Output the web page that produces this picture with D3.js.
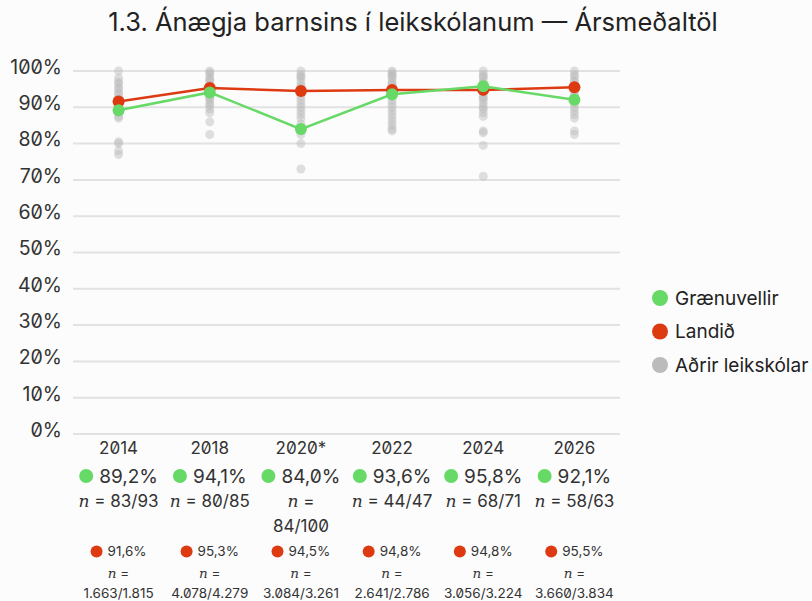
<!DOCTYPE html>
<html>
<head>
<meta charset="utf-8">
<script src="https://cdn.jsdelivr.net/npm/d3@7"></script>
<style>
  body { margin: 0; background: #fcfcfc; }
  svg { font-family: Inter, "DejaVu Sans", sans-serif; font-feature-settings: "zero" 1; }
</style>
</head>
<body>
<div id="chart"></div>
<script>
// data
var years = ["2014", "2018", "2020*", "2022", "2024", "2026"]
var schoolValues = [89.2, 94.1, 84.0, 93.6, 95.8, 92.1]
var schoolN = ["83/93", "80/85", "84/100", "44/47", "68/71", "58/63"]
var countryValues = [91.6, 95.3, 94.5, 94.8, 94.8, 95.5]
var countryN = ["1.663/1.815", "4.078/4.279", "3.084/3.261", "2.641/2.786", "3.056/3.224", "3.660/3.834"]
var otherSchools = [
  [100, 98, 97, 96.5, 95.5, 95, 94, 93.5, 92.5, 92, 91, 90.5, 89.5, 89, 88.5, 87.5, 87, 80.5, 80, 78, 77],
  [100, 99.5, 99, 98, 97.5, 97, 96, 95.5, 95, 94.5, 94, 93, 92.5, 92, 91, 90.5, 89.5, 88.5, 86, 82.5],
  [100, 99, 98.5, 98, 97, 96, 95.5, 95, 94, 93, 92, 91, 90, 89, 88, 87, 85.5, 83.5, 82.5, 80, 73],
  [100, 99.5, 99, 98.5, 98, 97, 96.5, 96, 95, 94.5, 93.5, 93, 92, 91, 90, 89, 88, 87, 86, 85, 84, 83.5],
  [100, 99, 98.5, 98, 97, 96.5, 96, 95, 94.5, 94, 93, 92.5, 92, 91, 90, 89.5, 88.5, 87.5, 83.5, 83, 79.5, 71],
  [100, 99, 98.5, 97.5, 97, 96, 95, 94.5, 93.5, 93, 92, 91, 90, 89, 88, 87, 83.5, 82.5]
]
var yTicks = [0, 10, 20, 30, 40, 50, 60, 70, 80, 90, 100]
var legendLabels = ["Grænuvellir", "Landið", "Aðrir leikskólar"]

var green = "#66d966", red = "#dd3a12", gray = "#bbbbbb"
var width = 812, height = 601

var svg = d3.select("#chart").append("svg")
    .attr("width", width)
    .attr("height", height)

svg.append("text")
    .text("1.3. Ánægja barnsins í leikskólanum — Ársmeðaltöl")
    .attr("x", 413).attr("y", 31)
    .attr("text-anchor", "middle")
    .style("font-size", "25.5px")
    .style("fill", "#222")

var x = d3.scaleBand().domain(years).range([73, 620])
var cx = function(d) { return x(d) + x.bandwidth() / 2 }
var y = d3.scaleLinear().domain([0, 100]).range([434, 71])

// grid
svg.append("g").selectAll("line")
    .data(yTicks)
  .enter().append("line")
    .attr("x1", 73).attr("x2", 620)
    .attr("y1", function(d) { return y(d) })
    .attr("y2", function(d) { return y(d) })
    .style("stroke", "#e2e2e2")
    .style("stroke-width", 2)

svg.append("g").selectAll("text")
    .data(yTicks)
  .enter().append("text")
    .attr("x", 62)
    .attr("y", function(d) { return y(d) - 4 })
    .attr("dy", "0.35em")
    .attr("text-anchor", "end")
    .style("font-size", "19.5px")
    .style("fill", "#333")
    .text(function(d) { return d + "%" })

// other schools
var others = []
otherSchools.forEach(function(arr, i) {
  arr.forEach(function(v) { others.push({year: years[i], value: v}) })
})
svg.append("g").selectAll("circle")
    .data(others)
  .enter().append("circle")
    .attr("cx", function(d) { return cx(d.year) })
    .attr("cy", function(d) { return y(d.value) })
    .attr("r", 4.5)
    .style("fill", gray)
    .style("opacity", 0.45)

function drawSeries(values, color) {
  var pts = values.map(function(v, i) { return {year: years[i], value: v} })
  var line = d3.line().x(function(d) { return cx(d.year) }).y(function(d) { return y(d.value) })
  svg.append("path").datum(pts)
      .attr("d", line)
      .style("fill", "none")
      .style("stroke", color)
      .style("stroke-width", 2.5)
  svg.append("g").selectAll("circle")
      .data(pts)
    .enter().append("circle")
      .attr("cx", function(d) { return cx(d.year) })
      .attr("cy", function(d) { return y(d.value) })
      .attr("r", 6)
      .style("fill", color)
}
drawSeries(countryValues, red)
drawSeries(schoolValues, green)

var fmt = function(v) { return v.toFixed(1).replace(".", ",") + "%" }

// bottom labels
var maxW = 82
years.forEach(function(yr, i) {
  var c = cx(yr)
  var g = svg.append("g").style("fill", "#333")
  g.append("text").text(yr)
      .attr("x", c).attr("y", 454)
      .attr("text-anchor", "middle")
      .style("font-size", "17px")

  // green value row
  var row = g.append("g")
  var t = row.append("text").text(fmt(schoolValues[i]))
      .attr("y", 482.5).style("font-size", "19px")
  var tw = t.node().getComputedTextLength()
  var total = 14 + 6 + tw
  row.append("circle").attr("cx", c - total / 2 + 7).attr("cy", 476).attr("r", 7).style("fill", green)
  t.attr("x", c - total / 2 + 20)

  // n rows, wrap if too wide
  var nTxt = g.append("text").attr("x", c).attr("y", 507)
      .attr("text-anchor", "middle").style("font-size", "17px")
  nTxt.append("tspan").text("n").style("font-style", "italic").style("font-family", "'DejaVu Serif', serif")
  nTxt.append("tspan").text(" = " + schoolN[i])
  if (nTxt.node().getComputedTextLength() > maxW) {
    nTxt.select("tspan:last-child").text(" =")
    g.append("text").text(schoolN[i])
        .attr("x", c).attr("y", 532)
        .attr("text-anchor", "middle").style("font-size", "17px")
  }

  // red value row
  var row2 = g.append("g")
  var t2 = row2.append("text").text(fmt(countryValues[i]))
      .attr("y", 556).style("font-size", "13.5px")
  var tw2 = t2.node().getComputedTextLength()
  var total2 = 12 + 5 + tw2
  row2.append("circle").attr("cx", c - total2 / 2 + 6).attr("cy", 551.5).attr("r", 6).style("fill", red)
  t2.attr("x", c - total2 / 2 + 17)

  var n2 = g.append("text").attr("x", c).attr("y", 578)
      .attr("text-anchor", "middle").style("font-size", "13.5px")
  n2.append("tspan").text("n").style("font-style", "italic").style("font-family", "'DejaVu Serif', serif")
  n2.append("tspan").text(" =")
  g.append("text").text(countryN[i])
      .attr("x", c).attr("y", 598)
      .attr("text-anchor", "middle").style("font-size", "13.5px")
})

// legend
var legendColors = [green, red, gray]
var legend = svg.append("g").selectAll("g")
    .data(legendLabels)
  .enter().append("g")
    .attr("transform", function(d, i) { return "translate(660," + (298 + i * 33.5) + ")" })
legend.append("circle").attr("r", 8).style("fill", function(d, i) { return legendColors[i] })
legend.append("text").text(function(d) { return d })
    .attr("x", 15).attr("dy", "0.35em")
    .style("font-size", "19px")
    .style("fill", "#222")
</script>
</body>
</html>
